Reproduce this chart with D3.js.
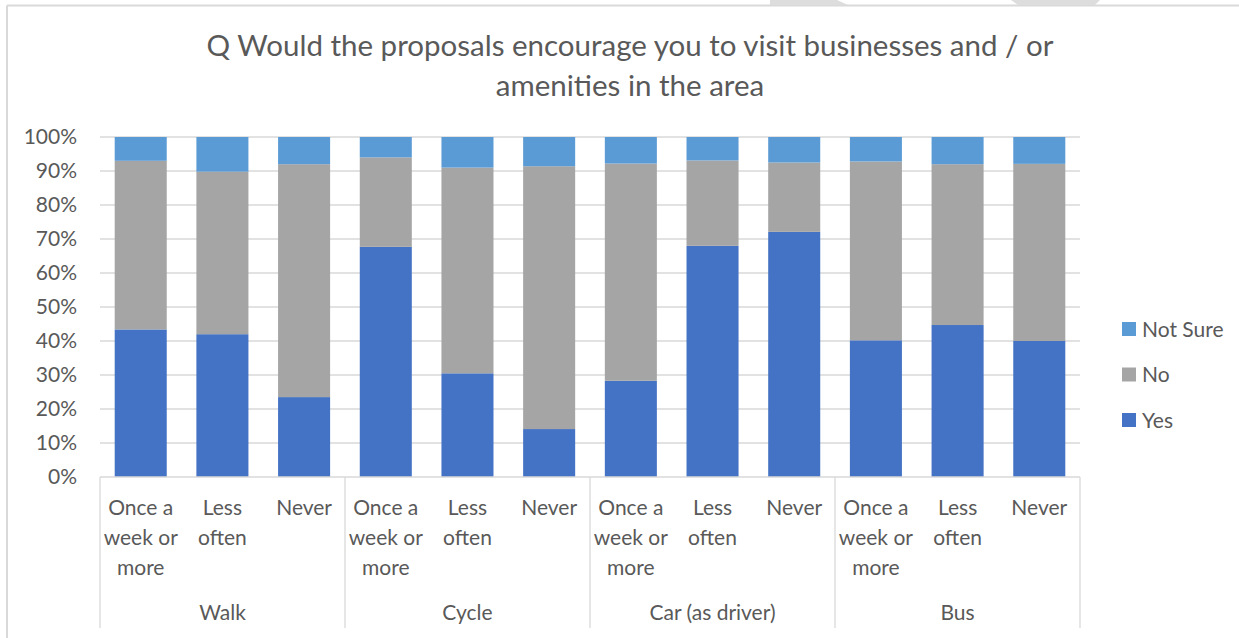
<!DOCTYPE html>
<html>
<head>
<meta charset="utf-8">
<script src="https://cdn.jsdelivr.net/npm/d3@7"></script>
<style>
  html, body { margin: 0; padding: 0; background: #fff; }
  svg { display: block; font-family: Lato, "Open Sans", sans-serif; }
</style>
</head>
<body>
<svg id="chart" width="1239" height="638"></svg>
<script>
// Travel mode groups and frequency categories (one bar per mode/frequency pair)
const groups = ["Walk", "Cycle", "Car (as driver)", "Bus"];
const frequencies = ["Once a week or more", "Less often", "Never"];

// Share of responses (%) per bar, in group order then frequency order
const yesValues     = [43.4, 42.0, 23.5, 67.7, 30.5, 14.1, 28.3, 68.0, 72.1, 40.2, 44.7, 40.0];
const noValues      = [49.6, 47.8, 68.5, 26.3, 60.5, 77.3, 63.9, 25.1, 20.4, 52.6, 47.3, 52.1];
const notSureValues = [7.0, 10.2, 8.0, 6.0, 9.0, 8.6, 7.8, 6.9, 7.5, 7.2, 8.0, 7.9];

const seriesNames = ["Yes", "No", "Not Sure"];
const seriesColors = ["#4472C4", "#A5A5A5", "#5B9BD5"];
const yTicks = [0, 10, 20, 30, 40, 50, 60, 70, 80, 90, 100];

const title = ["Q Would the proposals encourage you to visit businesses and / or", "amenities in the area"];

// Build one row per bar
const rows = [];
groups.forEach((g, gi) => frequencies.forEach((f, fi) => {
  const i = gi * frequencies.length + fi;
  rows.push({ key: g + "|" + f, group: g, freq: f,
              "Yes": yesValues[i], "No": noValues[i], "Not Sure": notSureValues[i] });
}));

const svg = d3.select("#chart");
const W = 1239, H = 638;
const plot = { left: 100, right: 1080, top: 137, bottom: 477 };
const textColor = "#595959";
const lineColor = "#D9D9D9";

// Outer chart frame (top and left edges visible)
svg.append("line").attr("x1", 7).attr("x2", W).attr("y1", 5.5).attr("y2", 5.5)
  .attr("stroke", lineColor).attr("stroke-width", 2);
svg.append("line").attr("x1", 7).attr("x2", 7).attr("y1", 5.5).attr("y2", H)
  .attr("stroke", lineColor).attr("stroke-width", 2);
// Shapes peeking above the frame
svg.append("polygon").attr("points", "770,0 837,0 848,5 770,5").attr("fill", "#DDDDDD");
svg.append("polygon").attr("points", "1011,0 1100,0 1095,5 1018,5").attr("fill", "#DDDDDD");

// Title
svg.append("text")
  .attr("x", 630).attr("text-anchor", "middle")
  .attr("fill", textColor).attr("font-size", 29.5)
  .selectAll("tspan").data(title).join("tspan")
  .attr("x", 630).attr("y", (d, i) => 56 + i * 40)
  .text(d => d);

const x = d3.scaleBand().domain(rows.map(r => r.key))
  .range([plot.left, plot.right]).paddingInner(0.363).paddingOuter(0.18);
const y = d3.scaleLinear().domain([0, 100]).range([plot.bottom, plot.top]);

// Gridlines
svg.append("g").selectAll("line").data(yTicks.filter(t => t > 0)).join("line")
  .attr("x1", plot.left).attr("x2", plot.right)
  .attr("y1", d => y(d)).attr("y2", d => y(d))
  .attr("stroke", lineColor).attr("stroke-width", 1.3);

// Y axis tick labels
const yAxis = svg.append("g").attr("transform", `translate(${plot.left},0)`)
  .call(d3.axisLeft(y).tickValues(yTicks).tickFormat(d => d + "%").tickSize(0).tickPadding(23));
yAxis.select(".domain").remove();
yAxis.selectAll("text").attr("fill", textColor).attr("font-size", 21)
  .attr("font-family", "Lato, 'Open Sans', sans-serif");

// Stacked bars
const stack = d3.stack().keys(seriesNames)(rows);
const color = d3.scaleOrdinal().domain(seriesNames).range(seriesColors);
svg.append("g").selectAll("g").data(stack).join("g")
  .attr("fill", d => color(d.key))
  .selectAll("rect").data(d => d).join("rect")
  .attr("x", d => x(d.data.key))
  .attr("width", x.bandwidth())
  .attr("y", d => y(d[1]))
  .attr("height", d => y(d[0]) - y(d[1]));

// Category axis line
svg.append("line").attr("x1", plot.left).attr("x2", plot.right)
  .attr("y1", plot.bottom).attr("y2", plot.bottom)
  .attr("stroke", lineColor).attr("stroke-width", 1.3);

// Group separators
const groupWidth = (plot.right - plot.left) / groups.length;
const sepXs = d3.range(groups.length + 1).map(i => plot.left + i * groupWidth);
svg.append("g").selectAll("line").data(sepXs).join("line")
  .attr("x1", d => d).attr("x2", d => d)
  .attr("y1", plot.bottom).attr("y2", 628)
  .attr("stroke", lineColor).attr("stroke-width", 1.3);

// Frequency labels, word-wrapped within each band
const step = x.step();
const labelG = svg.append("g").attr("fill", textColor).attr("font-size", 21).attr("text-anchor", "middle");
rows.forEach(r => {
  const cx = x(r.key) + x.bandwidth() / 2;
  const t = labelG.append("text").attr("x", cx);
  const words = r.freq.split(" ");
  const lines = [];
  let cur = [];
  const probe = labelG.append("text").attr("visibility", "hidden");
  words.forEach(w => {
    const trial = cur.concat(w).join(" ");
    probe.text(trial);
    if (cur.length && probe.node().getComputedTextLength() > step - 4) {
      lines.push(cur.join(" "));
      cur = [w];
    } else {
      cur.push(w);
    }
  });
  lines.push(cur.join(" "));
  probe.remove();
  t.selectAll("tspan").data(lines).join("tspan")
    .attr("x", cx).attr("y", (d, i) => 515 + i * 30).text(d => d);
});

// Group labels
svg.append("g").selectAll("text").data(groups).join("text")
  .attr("x", (d, i) => plot.left + (i + 0.5) * groupWidth)
  .attr("y", 620).attr("text-anchor", "middle")
  .attr("fill", textColor).attr("font-size", 21)
  .text(d => d);

// Legend
const legendItems = seriesNames.slice().reverse();
const legend = svg.append("g").selectAll("g").data(legendItems).join("g")
  .attr("transform", (d, i) => `translate(1122, ${329 + i * 45.5})`);
legend.append("rect").attr("x", 0).attr("y", -7).attr("width", 14).attr("height", 14)
  .attr("fill", d => color(d));
legend.append("text").attr("x", 20).attr("y", 7.5)
  .attr("fill", textColor).attr("font-size", 21).text(d => d);
</script>
</body>
</html>
